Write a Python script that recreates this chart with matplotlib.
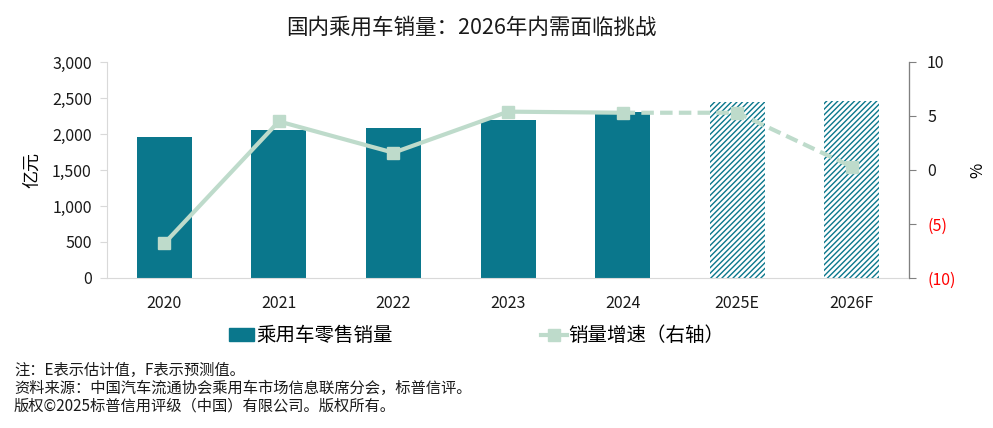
import matplotlib.pyplot as plt
from matplotlib.lines import Line2D
from matplotlib.patches import Patch
from matplotlib.ticker import FuncFormatter

plt.rcParams["font.family"] = ["Noto Sans CJK SC", "DejaVu Sans"]
plt.rcParams["hatch.linewidth"] = 1.0

# data
years = ["2020", "2021", "2022", "2023", "2024", "2025E", "2026F"]
sales = [1960, 2055, 2085, 2200, 2310, 2450, 2460]      # 亿元
growth = [-6.8, 4.5, 1.6, 5.4, 5.3, 5.3, 0.3]           # %
n_actual = 5

teal = "#0A778C"
green = "#BEDBCB"

fig = plt.figure(figsize=(9.93, 4.28), dpi=100)
ax = fig.add_axes([0.1078, 0.3505, 0.8076, 0.5047])
ax2 = ax.twinx()

x = list(range(len(years)))
ax.bar(x[:n_actual], sales[:n_actual], width=0.48, color=teal, zorder=2)
ax.bar(x[n_actual:], sales[n_actual:], width=0.48, color="white",
       edgecolor=teal, linewidth=0, hatch="//////", zorder=2)

ax2.plot(x[:n_actual], growth[:n_actual], color=green, lw=3,
         marker="s", ms=9, zorder=3)
ax2.plot(x[n_actual - 1:], growth[n_actual - 1:], color=green, lw=3,
         ls=(0, (3, 1.5)), marker="s", ms=9, markevery=[1, 2], zorder=3)

ax.set_xlim(-0.5, len(years) - 0.5)
ax.set_ylim(0, 3000)
ax.set_yticks(range(0, 3001, 500))
ax.yaxis.set_major_formatter(FuncFormatter(lambda v, p: f"{v:,.0f}"))
ax.set_xticks(x)
ax.set_xticklabels(years)
ax.tick_params(axis="x", length=0, labelsize=11.5, pad=12, colors="#1a1a1a")
ax.tick_params(axis="y", length=5, color="#d9d9d9", labelsize=11.5,
               labelcolor="#1a1a1a", pad=6)

ax2.set_ylim(-10, 10)
ax2.set_yticks(range(-10, 11, 5))
ax2.yaxis.set_major_formatter(
    FuncFormatter(lambda v, p: f"({abs(v):.0f})" if v < 0 else f"{v:.0f}"))
ax2.tick_params(axis="y", length=5, color="#808080", labelsize=11.5, pad=8)
for lab, v in zip(ax2.get_yticklabels(), ax2.get_yticks()):
    lab.set_color("red" if v < 0 else "#1a1a1a")

for a in (ax, ax2):
    a.spines["top"].set_visible(False)
ax.spines["left"].set_color("#d9d9d9")
ax.spines["bottom"].set_color("#d9d9d9")
ax2.spines["left"].set_visible(False)
ax2.spines["bottom"].set_visible(False)
ax2.spines["right"].set_color("#808080")

ax.set_ylabel("亿元", fontsize=13, labelpad=8)
ax2.set_ylabel("%", fontsize=12, labelpad=10)

fig.text(0.475, 0.935, "国内乘用车销量：2026年内需面临挑战", ha="center",
         va="center", fontsize=15.5, color="#1a1a1a")

handles = [Patch(color=teal),
           Line2D([], [], color=green, lw=3, marker="s", ms=9)]
fig.legend(handles, ["乘用车零售销量", "销量增速（右轴）"], loc="center left",
           bbox_to_anchor=(0.213, 0.215), ncol=2, frameon=False, fontsize=14,
           handlelength=1.3, handletextpad=0.1, columnspacing=7.65)

notes = ["注：E表示估计值，F表示预测值。",
         "资料来源：中国汽车流通协会乘用车市场信息联席分会，标普信评。",
         "版权©2025标普信用评级（中国）有限公司。版权所有。"]
for i, t in enumerate(notes):
    fig.text(0.014, 0.135 - i * 0.042, t, fontsize=11, va="center",
             color="#1a1a1a")

fig.savefig("out.png", dpi=100)
